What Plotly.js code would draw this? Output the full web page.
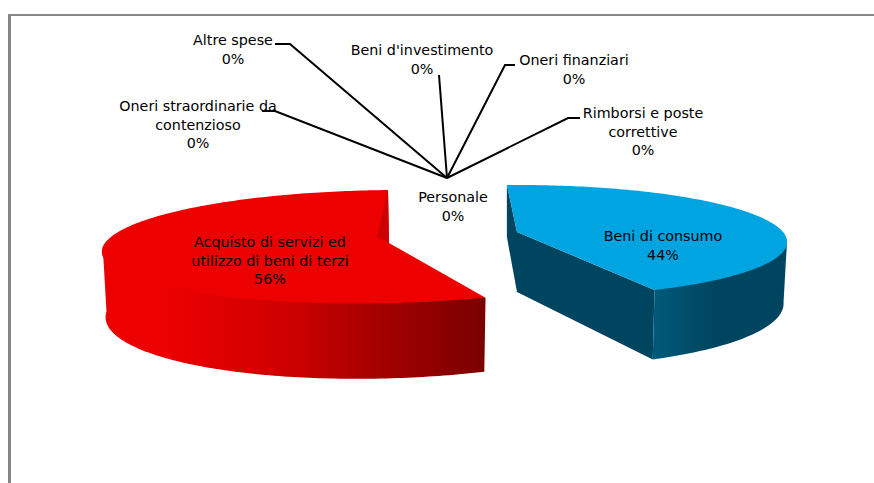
<!DOCTYPE html>
<html><head><meta charset="utf-8">
<script src="https://cdn.plot.ly/plotly-3.0.1.min.js"></script>
<style>html,body{margin:0;padding:0;background:#fff}#c{width:874px;height:483px}</style>
</head><body><div id="c"></div>
<script>
const categories = ["Beni di consumo","Acquisto di servizi ed<br>utilizzo di beni di terzi","Oneri straordinarie da<br>contenzioso","Altre spese","Beni d'investimento","Oneri finanziari","Rimborsi e poste<br>correttive","Personale"];
const values = [44,56,0,0,0,0,0,0];
const labelX = [663,270,198,233,422,574,643,453];
const labelY = [247,262,126,51,61,71,133,208];
const leaderHub = [447,178];
const leaderA = [[290,44],[275,111],[439,75],[505,65],[568,118]];
const leaderB = [[275,44],[262,111],[439,75],[515,65],[580,118]];
const startAngle = -3;
const total = values.reduce((a,b)=>a+b,0);
const rad = d=>d*Math.PI/180;
// perspective projection of a wedge: one parameter set for each exploded slice
const blue = {ax:517,ay:232,R:266,Ry:54.5,k:.16,sx:-2.87,sq:5.07,D:60};
const red  = {ax:389,ay:243,R:284,Ry:56.5,k:.066,sx:22.4,sq:-8.6,D:64};
function proj(w,deg,h){
  const X=Math.sin(rad(deg)),Z=Math.cos(rad(deg)),p=1+w.k*Z;
  let dx=(w.R*X+w.sx*Z+w.sq*Z*Z)/p;
  if(h) dx*=.987;
  return [w.ax+dx, w.ay-w.Ry*Z/p+(h?w.D/(1+.15*Z):0)];
}
function arc(w,a,b,h){const o=[];const n=Math.ceil(Math.abs(b-a));for(let i=0;i<=n;i++)o.push(proj(w,a+(b-a)*i/n,h));return o;}
// pull the inner points of a rim slightly under the top face, so no seam shows
function inset(pts,w){return pts.map((p,i)=>(i===0||i===pts.length-1)?p:[w.ax+(p[0]-w.ax)*.97,w.ay+(p[1]-w.ay)*.97]);}
function poly(pts,fill,extra){return Object.assign({type:'scatter',mode:'lines',x:pts.map(p=>p[0]),y:pts.map(p=>p[1]),fill:'toself',fillcolor:fill,line:{width:0,color:fill,simplify:false},hoverinfo:'skip',showlegend:false},extra||{});}
const blueEnd = startAngle+values[0]/total*360;
const redEnd = startAngle+360;
const traces=[];
// blue
const bs=proj(blue,startAngle,0), be=proj(blue,blueEnd,0), beB=proj(blue,blueEnd,1);
const apexB=[blue.ax,blue.ay], apexBb=[blue.ax,blue.ay+blue.D];
traces.push(poly([bs,apexB,apexBb,[bs[0],bs[1]+52]],'#00455f'));
traces.push(poly([apexB,be,beB,apexBb],'#00455f'));
traces.push(poly(inset(arc(blue,99,blueEnd,0),blue).concat(arc(blue,blueEnd,99,1)),'#00455f',{fillgradient:{type:'horizontal',start:be[0],stop:715,colorscale:[[0,'#00597a'],[.5,'#004f6d'],[1,'#00455f']]}}));
traces.push(poly([apexB].concat(arc(blue,startAngle,blueEnd,0)),'#00a4e0'));
// red
const rs=proj(red,redEnd,0), re=proj(red,blueEnd,0);
const apexR=[red.ax,red.ay];
traces.push(poly(inset(arc(red,blueEnd,266,0),red).concat(arc(red,266,blueEnd,1)),'#ec0000',{fillgradient:{type:'horizontal',start:170,stop:re[0],colorscale:[[0,'#ec0000'],[.35,'#d00000'],[.7,'#a00000'],[1,'#7a0000']]}}));
traces.push(poly([apexR].concat(arc(red,blueEnd,redEnd,0)),'#ec0000'));
traces.push(poly([rs,[377,237],apexR],'#cc0000'));
// leaders
leaderA.forEach((a,i)=>{traces.push({type:'scatter',mode:'lines',x:[leaderB[i][0],a[0],leaderHub[0]],y:[leaderB[i][1],a[1],leaderHub[1]],line:{color:'#000',width:2},hoverinfo:'skip',showlegend:false});});
// labels
traces.push({type:'scatter',mode:'text',x:labelX,y:labelY,text:categories.map((c,i)=>c+'<br>'+Math.round(values[i]/total*100)+'%'),textposition:'middle center',textfont:{family:'DejaVu Sans',size:14.3,color:'#000'},hoverinfo:'skip',showlegend:false});
const layout={width:874,height:483,margin:{l:0,r:0,t:0,b:0},paper_bgcolor:'#fff',plot_bgcolor:'#fff',showlegend:false,
 xaxis:{range:[0,874],visible:false,fixedrange:true},yaxis:{range:[483,0],visible:false,fixedrange:true},
 shapes:[
  {type:'line',x0:8,x1:874,y0:15,y1:15,line:{color:'#868686',width:2}},
  {type:'line',x0:9.5,x1:9.5,y0:14,y1:483,line:{color:'#868686',width:3}}
 ]};
Plotly.newPlot('c',traces,layout,{displayModeBar:false,staticPlot:true});
</script></body></html>
